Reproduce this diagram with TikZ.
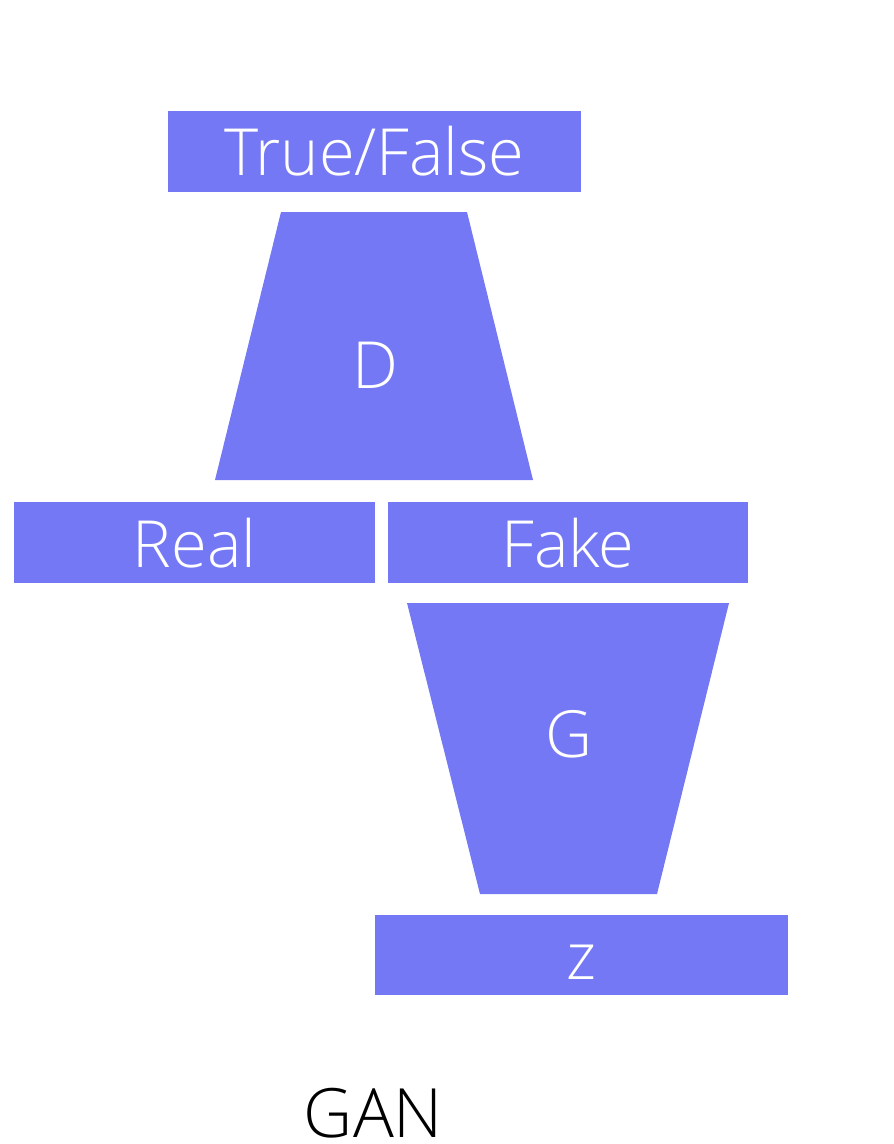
\documentclass[tikz,border=0pt]{standalone}
\usepackage{fontspec}
\setmainfont{Open Sans}[UprightFont=* Light]
\definecolor{block}{HTML}{7478F4}
\begin{document}
\begin{tikzpicture}[x=1pt,y=-1pt,
  blockbox/.style={fill=block,draw=none,inner sep=0pt},
  label/.style={text=white,anchor=base,inner sep=0pt,font=\fontsize{65}{65}\selectfont},
  caption/.style={text=black,anchor=base,inner sep=0pt,text depth=0pt,font=\fontsize{68}{68}\selectfont}]
  \useasboundingbox (0,0) rectangle (894,1144);
  % discriminator output
  \fill[block] (168,111) rectangle (581,192);
  \node[label] (tf) at (374.5,175) {True/False};
  % discriminator
  \fill[block] (281,212) -- (467,212) -- (533,480) -- (215,480) -- cycle;
  \node[label] (d) at (375,388) {D};
  % inputs to the discriminator
  \fill[block] (14,502) rectangle (375,583);
  \node[label] (real) at (194.5,567) {Real};
  \fill[block] (388,502) rectangle (748,583);
  \node[label] (fake) at (568,567) {Fake};
  % generator
  \fill[block] (407,603) -- (729,603) -- (657,894) -- (480,894) -- cycle;
  \node[label] (g) at (568.5,757) {G};
  % latent input
  \fill[block] (375,915) rectangle (788,995);
  \node[label] (z) at (581.5,979) {z};
  % title
  \node[caption] (title) at (373.5,1137) {GAN};
\end{tikzpicture}
\end{document}
